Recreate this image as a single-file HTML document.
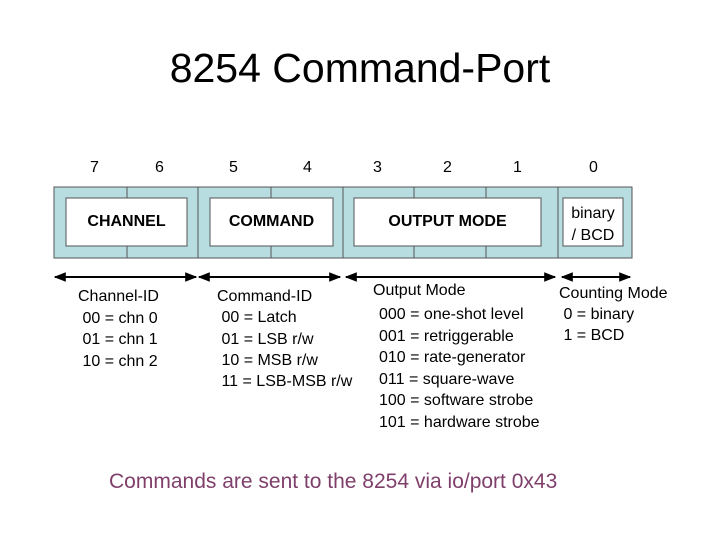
<!DOCTYPE html>
<html><head><meta charset="utf-8"><style>
body{margin:0;width:720px;height:540px;background:#fff;position:relative;overflow:hidden;font-family:"Liberation Sans",Arial,sans-serif;color:#000}
.a{position:absolute;white-space:nowrap;line-height:1}
.t{font-size:16px}
</style></head><body>
<div class="a" style="left:0;width:720px;text-align:center;top:48px;font-size:41px">8254 Command-Port</div>
<div class="a t" style="left:90px;top:160px">7</div>
<div class="a t" style="left:155px;top:160px">6</div>
<div class="a t" style="left:229px;top:160px">5</div>
<div class="a t" style="left:303px;top:160px">4</div>
<div class="a t" style="left:373px;top:160px">3</div>
<div class="a t" style="left:443px;top:160px">2</div>
<div class="a t" style="left:513px;top:160px">1</div>
<div class="a t" style="left:589px;top:160px">0</div>
<svg width="720" height="540" style="position:absolute;left:0;top:0">
<defs><marker id="m" viewBox="0 0 10 10" refX="9" refY="5" markerWidth="6" markerHeight="6" orient="auto-start-reverse"><path d="M0,1L10,5L0,9z" fill="#000"/></marker></defs>
<rect x="54" y="187" width="578" height="71" fill="#b7dde0" stroke="#555" stroke-width="1"/>
<g stroke="#555" stroke-width="1">
<line x1="198" y1="187" x2="198" y2="258"/><line x1="343" y1="187" x2="343" y2="258"/><line x1="558" y1="187" x2="558" y2="258"/>
<line x1="127" y1="187" x2="127" y2="258"/><line x1="271" y1="187" x2="271" y2="258"/><line x1="414" y1="187" x2="414" y2="258"/><line x1="486" y1="187" x2="486" y2="258"/>
</g>
<g fill="#fff" stroke="#555" stroke-width="1">
<rect x="66" y="198" width="121" height="48"/>
<rect x="210" y="198" width="123" height="48"/>
<rect x="354" y="198" width="187" height="48"/>
<rect x="563" y="198" width="60" height="48"/>
</g>
<g stroke="#000" stroke-width="2" marker-start="url(#m)" marker-end="url(#m)">
<line x1="55" y1="277" x2="196" y2="277"/>
<line x1="199" y1="277" x2="340" y2="277"/>
<line x1="346" y1="277" x2="555" y2="277"/>
<line x1="562" y1="277" x2="630" y2="277"/>
</g>
</svg>
<div class="a t" style="left:66px;width:121px;text-align:center;top:214px;font-weight:bold">CHANNEL</div>
<div class="a t" style="left:210px;width:123px;text-align:center;top:214px;font-weight:bold">COMMAND</div>
<div class="a t" style="left:354px;width:187px;text-align:center;top:214px;font-weight:bold">OUTPUT MODE</div>
<div class="a t" style="left:563px;width:60px;text-align:center;top:203px;line-height:22px">binary<br>/ BCD</div>
<div class="a t" style="left:78px;top:286px;line-height:21.5px">Channel-ID<br>&nbsp;00 = chn 0<br>&nbsp;01 = chn 1<br>&nbsp;10 = chn 2</div>
<div class="a t" style="left:217px;top:286px;line-height:21.3px">Command-ID<br>&nbsp;00 = Latch<br>&nbsp;01 = LSB r/w<br>&nbsp;10 = MSB r/w<br>&nbsp;11 = LSB-MSB r/w</div>
<div class="a t" style="left:373px;top:283px">Output Mode</div>
<div class="a t" style="left:379px;top:304px;line-height:21.5px">000 = one-shot level<br>001 = retriggerable<br>010 = rate-generator<br>011 = square-wave<br>100 = software strobe<br>101 = hardware strobe</div>
<div class="a t" style="left:559px;top:283px;line-height:21px">Counting Mode<br>&nbsp;0 = binary<br>&nbsp;1 = BCD</div>
<div class="a" style="left:109px;top:471px;font-size:21px;color:#7f3f6b">Commands are sent to the 8254 via io/port 0x43</div>
</body></html>
